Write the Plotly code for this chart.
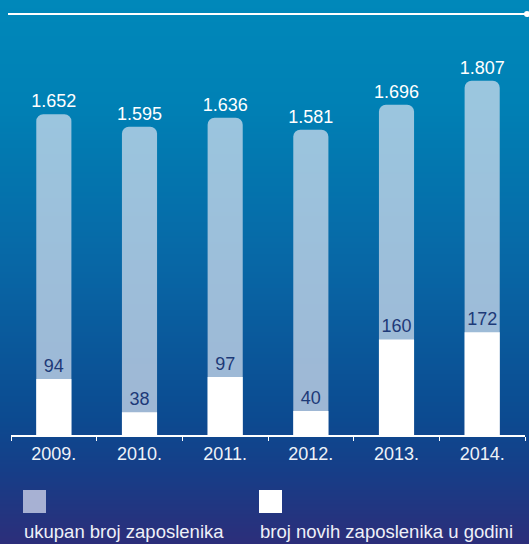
import numpy as np
import plotly.graph_objects as go

years = ["2009.", "2010.", "2011.", "2012.", "2013.", "2014."]
total_staff = [1652, 1595, 1636, 1581, 1696, 1807]
new_staff = [94, 38, 97, 40, 160, 172]
legend_labels = ["ukupan broj zaposlenika", "broj novih zaposlenika u godini"]

W, H = 529, 544
ML, MR, MT, MB = 11, 4, 60, 109
PW, PH = W - ML - MR, H - MT - MB
AX_Y = H - MB  # pixel row of the x axis


def px(x):
    return (x - ML) / PW


def py(y):
    return (AX_Y - y) / PH


def fmt(v):
    return f"{v:,}".replace(",", ".")


FONT = "Liberation Sans, Arial, sans-serif"

# background gradient stops (pixel y, rgb)
stops_y = [0, 100, 270, 420, 470, 544]
stops_c = [(0, 136, 186), (0, 129, 181), (8, 102, 165), (12, 74, 144), (22, 62, 136), (44, 46, 122)]
shapes = []
step = 2
for y in range(0, H, step):
    c = [int(round(np.interp(y + step / 2, stops_y, [s[i] for s in stops_c]))) for i in range(3)]
    shapes.append(dict(type="rect", xref="paper", yref="paper", layer="below",
                       x0=px(-2), x1=px(W + 2), y0=py(y + step + 0.6), y1=py(y),
                       fillcolor=f"rgb({c[0]},{c[1]},{c[2]})", line=dict(width=0)))

# title rule with dot
shapes.append(dict(type="line", xref="paper", yref="paper", x0=px(8), x1=px(525), y0=py(14), y1=py(14),
                   line=dict(color="white", width=2)))
shapes.append(dict(type="circle", xref="paper", yref="paper", x0=px(524), x1=px(530), y0=py(17), y1=py(11),
                   fillcolor="white", line=dict(width=0)))

# legend swatches
shapes.append(dict(type="rect", xref="paper", yref="paper", x0=px(23), x1=px(46), y0=py(513), y1=py(490),
                   fillcolor="#a7b1d3", line=dict(width=0)))
shapes.append(dict(type="rect", xref="paper", yref="paper", x0=px(259), x1=px(282), y0=py(513), y1=py(490),
                   fillcolor="white", line=dict(width=0)))

annotations = [
    dict(text=legend_labels[0], xref="paper", yref="paper", x=px(22), y=py(531), xanchor="left",
         yanchor="middle", showarrow=False, font=dict(family=FONT, size=18.5, color="#eef0f8")),
    dict(text=legend_labels[1], xref="paper", yref="paper", x=px(258), y=py(531), xanchor="left",
         yanchor="middle", showarrow=False, font=dict(family=FONT, size=18.5, color="#eef0f8")),
]

PX_PER_TOTAL = 0.217
Y0_TOTAL = 174
PX_PER_NEW = 0.597

fig = go.Figure()
fig.add_trace(go.Bar(
    x=years, y=total_staff, yaxis="y", width=0.41,
    marker=dict(color="rgba(215,225,238,0.72)", line=dict(width=0), cornerradius=7),
    text=[fmt(v) for v in total_staff], textposition="outside", constraintext="none",
    textfont=dict(family=FONT, size=18, color="white"), cliponaxis=False,
    name=legend_labels[0], showlegend=False,
))
fig.add_trace(go.Bar(
    x=years, y=new_staff, yaxis="y2", width=0.41,
    marker=dict(color="white", line=dict(width=0)),
    text=[fmt(v) for v in new_staff], textposition="outside", constraintext="none",
    textfont=dict(family=FONT, size=18, color="#1d3a78"), cliponaxis=False,
    name=legend_labels[1], showlegend=False,
))

fig.update_layout(
    width=W, height=H,
    margin=dict(l=ML, r=MR, t=MT, b=MB, pad=0),
    paper_bgcolor="rgb(0,136,186)", plot_bgcolor="rgba(0,0,0,0)",
    barmode="overlay", showlegend=False,
    shapes=shapes, annotations=annotations,
    xaxis=dict(type="category", showline=True, linecolor="white", linewidth=1.5,
               ticks="outside", tickson="boundaries", ticklen=4, tickcolor="white", tickwidth=1,
               showgrid=False, zeroline=False,
               tickfont=dict(family=FONT, size=18, color="#eef2f8"), ticklabelstandoff=2),
    yaxis=dict(visible=False, range=[Y0_TOTAL, Y0_TOTAL + PH / PX_PER_TOTAL], showgrid=False),
    yaxis2=dict(visible=False, overlaying="y", range=[0, PH / PX_PER_NEW], showgrid=False),
)

fig.write_html("out.html")
